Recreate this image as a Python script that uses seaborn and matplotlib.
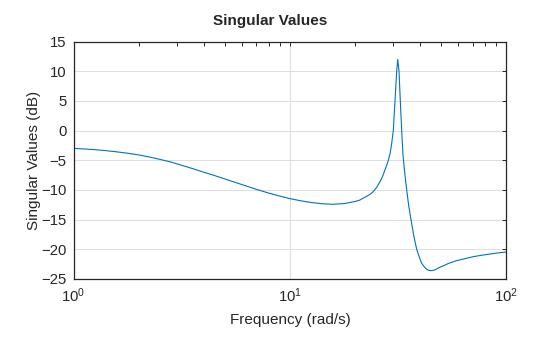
import numpy as np
import pandas as pd
import matplotlib
matplotlib.use("Agg")
import matplotlib.pyplot as plt
import matplotlib.ticker as mticker
import seaborn as sns

# Frequency response of the largest singular value
freq_rad_s = [1.0, 1.12, 1.26, 1.41, 1.58, 1.78, 2.0, 2.24, 2.51, 2.82, 3.16,
              3.55, 3.98, 4.47, 5.01, 5.62, 6.31, 7.08, 7.94, 8.91, 10.0, 11.2,
              12.6, 14.1, 15.8, 17.8, 20.0, 21.1, 22.6, 23.5, 24.3, 25.2, 26.15,
              26.9, 27.57, 28.1, 28.56, 29.1, 29.6, 30.12, 30.67, 31.23, 31.57,
              32.01, 32.45, 32.94, 33.4, 34.0, 34.74, 35.5, 36.37, 37.4, 38.64,
              40.0, 40.75, 42.0, 43.0, 44.0, 45.3, 47.0, 49.5, 52.0, 54.0, 59.2,
              65.0, 70.6, 77.0, 84.3, 92.0, 100.0]
sv_db = [-3.0, -3.1, -3.22, -3.38, -3.58, -3.82, -4.1, -4.45, -4.85, -5.3,
         -5.85, -6.4, -6.98, -7.55, -8.15, -8.75, -9.35, -9.95, -10.5, -11.0,
         -11.45, -11.82, -12.12, -12.32, -12.42, -12.3, -11.95, -11.7, -11.1,
         -10.75, -10.3, -9.6, -8.6, -7.7, -6.6, -5.8, -5.0, -3.9, -2.2, 0.0,
         5.0, 10.0, 12.0, 10.0, 5.0, 0.0, -4.2, -7.0, -10.0, -12.7, -15.0,
         -17.6, -20.0, -21.6, -22.36, -23.0, -23.37, -23.55, -23.6, -23.45,
         -23.0, -22.7, -22.4, -21.9, -21.55, -21.24, -21.0, -20.8, -20.6,
         -20.45]

y_ticks = [-25, -20, -15, -10, -5, 0, 5, 10, 15]
x_ticks = [1, 10, 100]

sns.set_style("white")
plt.rcParams["font.family"] = ["Liberation Sans", "DejaVu Sans"]
plt.rcParams["mathtext.fontset"] = "custom"
plt.rcParams["mathtext.rm"] = "Liberation Sans"
plt.rcParams["mathtext.it"] = "Liberation Sans:italic"
plt.rcParams["mathtext.bf"] = "Liberation Sans:bold"

W, H = 560, 337
fig = plt.figure(figsize=(W / 100, H / 100), dpi=100)
left, right, top, bottom = 73.5, 506, 41.5, 279
ax = fig.add_axes([left / W, 1 - bottom / H, (right - left) / W, (bottom - top) / H])

df = pd.DataFrame({"Frequency": freq_rad_s, "SV": sv_db})
sns.lineplot(data=df, x="Frequency", y="SV", ax=ax, color="#0072BD",
             linewidth=0.8, estimator=None)

ax.set_xscale("log")
ax.set_xlim(1, 100)
ax.set_ylim(-25, 15)
ax.set_yticks(y_ticks)
ax.set_xticks(x_ticks)
ax.xaxis.set_major_formatter(mticker.LogFormatterSciNotation())
ax.xaxis.set_minor_locator(mticker.LogLocator(base=10, subs=np.arange(2, 10)))
ax.xaxis.set_minor_formatter(mticker.NullFormatter())

text_c = "#262626"
ax.grid(True, which="major", color="#dfdfdf", linewidth=0.8)
ax.set_axisbelow(True)
for s in ax.spines.values():
    s.set_color(text_c)
    s.set_linewidth(0.9)
ax.tick_params(which="both", direction="in", top=True, right=True,
               colors=text_c, labelcolor=text_c, width=0.7)
ax.tick_params(which="major", length=3.2, labelsize=10.7)
ax.tick_params(which="minor", length=3.0)
ax.tick_params(axis="y", pad=5)
ax.tick_params(axis="x", pad=5)

ax.set_xlabel("")
ax.set_ylabel("Singular Values (dB)", fontsize=11, color=text_c)
ax.yaxis.set_label_coords((41 - left) / (right - left), 0.5)

fig.text(290.3 / W, 1 - 324.3 / H, "Frequency (rad/s)", ha="center",
         va="baseline", fontsize=11, color=text_c)
fig.text(270.5 / W, 1 - 25 / H, "Singular Values", ha="center",
         va="baseline", fontsize=11, fontweight="bold", color=text_c)

fig.savefig("out.png", dpi=100)
